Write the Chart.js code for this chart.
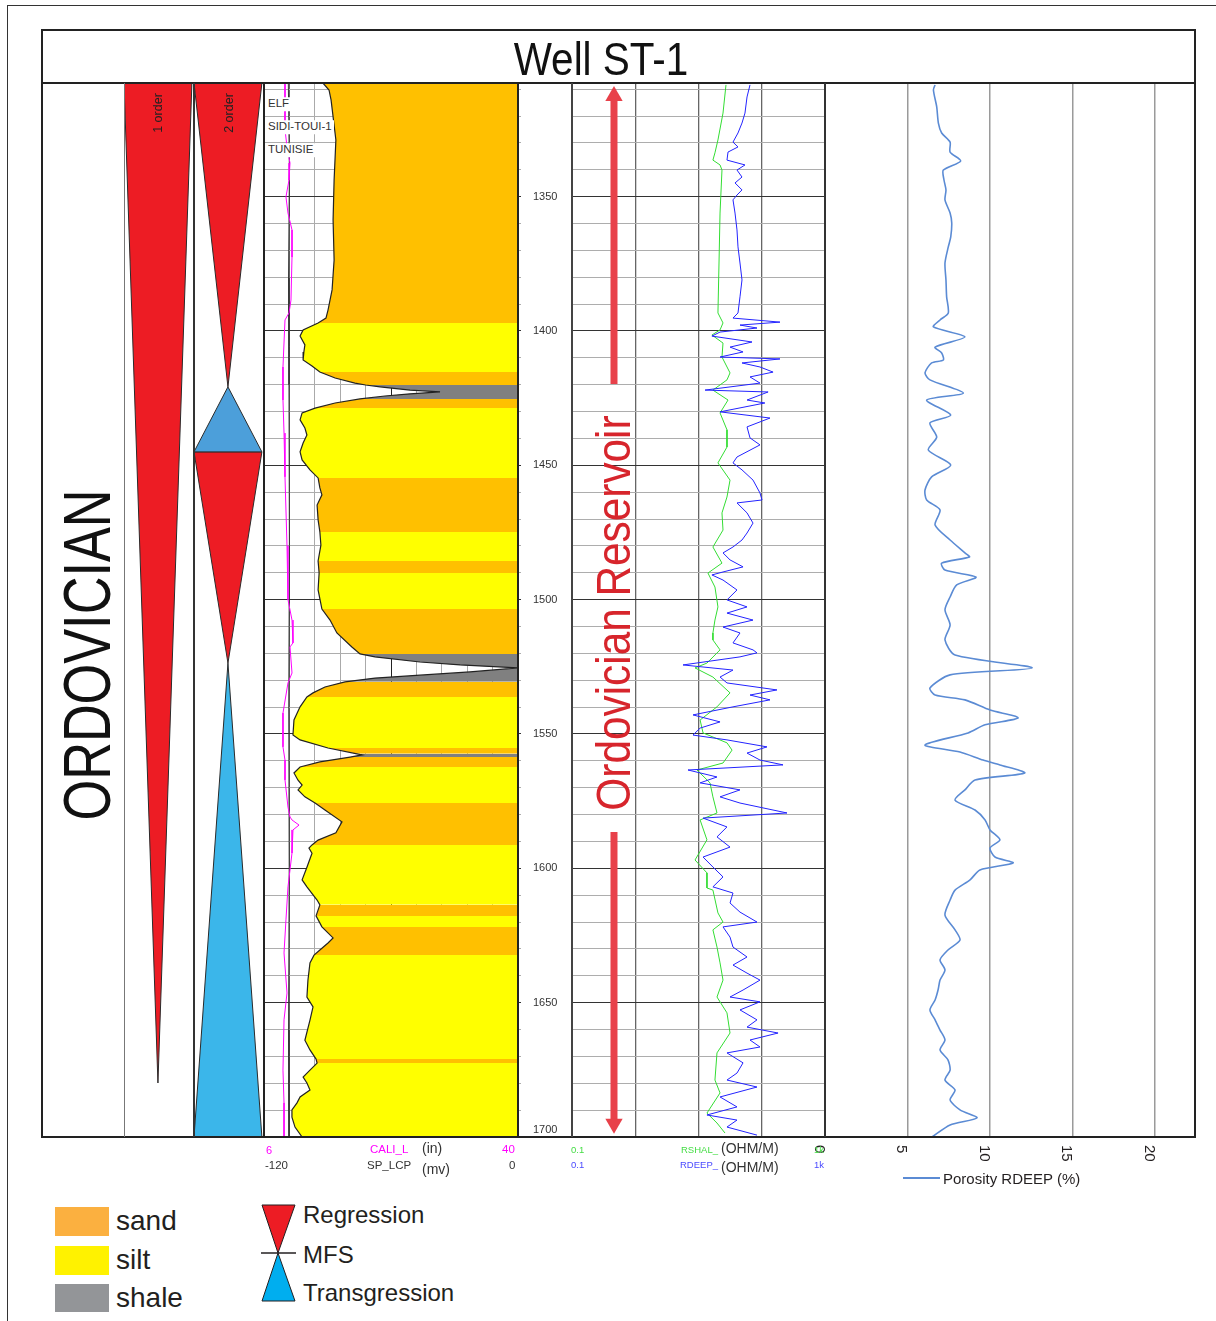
<!DOCTYPE html>
<html>
<head>
<meta charset="utf-8">
<title>Well ST-1</title>
<script src="https://cdn.jsdelivr.net/npm/chart.js@4.4.1/dist/chart.umd.min.js"></script>
<style>
  body { margin: 0; background: #fff; }
  #page { position: relative; width: 1216px; height: 1321px; overflow: hidden;
          font-family: "Liberation Sans", Arial, sans-serif; color: #231f20; }
  #page canvas { position: absolute; }
  .ln { position: absolute; }
  .t { position: absolute; white-space: nowrap; line-height: 1; transform: translateY(-50%); }
  .v { position: absolute; white-space: nowrap; line-height: 1; }
  .box { position: absolute; width: 54px; height: 29px; }
</style>
</head>
<body>
<div id="page">
  <div class="ln" style="left:7px;top:5px;width:1220px;height:1330px;border-left:1.5px solid #333;border-top:1.5px solid #333;"></div>

  <canvas id="seq" width="140" height="1054" style="left:124px;top:83px"></canvas>
  <canvas id="sp" width="308" height="1070" style="left:264px;top:83px"></canvas>
  <canvas id="res" width="253" height="1054" style="left:572px;top:83px"></canvas>
  <canvas id="por" width="380" height="1120" style="left:815px;top:83px"></canvas>

  <!-- frame and track borders -->
  <div class="ln" style="left:41px;top:29px;width:1155px;height:1109px;border:2px solid #222;box-sizing:border-box;"></div>
  <div class="ln" style="left:41px;top:82px;width:1155px;height:2px;background:#222"></div>
  <div class="ln" style="left:124px;top:83px;width:1px;height:1054px;background:#777"></div>
  <div class="ln" style="left:193px;top:83px;width:1.5px;height:1054px;background:#333"></div>
  <div class="ln" style="left:263px;top:83px;width:2px;height:1054px;background:#222"></div>
  <div class="ln" style="left:517px;top:83px;width:1.5px;height:1054px;background:#222"></div>
  <div class="ln" style="left:571px;top:83px;width:1.5px;height:1054px;background:#444"></div>
  <div class="ln" style="left:824px;top:83px;width:2px;height:1054px;background:#333"></div>

  <div class="v" style="left:601px;top:59px;font-size:46px;color:#111;transform:translate(-50%,-50%) scaleX(0.88);">Well ST-1</div>
  <div class="v" style="left:86px;top:655px;font-size:67px;color:#111;transform:translate(-50%,-50%) rotate(-90deg) scaleX(0.78);">ORDOVICIAN</div>
  <div class="v" style="left:158px;top:113px;font-size:12.5px;color:#222;transform:translate(-50%,-50%) rotate(-90deg);">1 order</div>
  <div class="v" style="left:229px;top:113px;font-size:12.5px;color:#222;transform:translate(-50%,-50%) rotate(-90deg);">2 order</div>
  <div class="v" style="left:612.5px;top:612.5px;font-size:49px;color:#d7252c;transform:translate(-50%,-50%) rotate(-90deg) scaleX(0.864);">Ordovician Reservoir</div>

  <div class="t" style="left:267px;top:104px;font-size:11.5px;color:#333;background:#fff;padding:1px 2px 1px 1px;">ELF</div>
  <div class="t" style="left:267px;top:127px;font-size:11.5px;color:#333;background:#fff;padding:1px 2px 1px 1px;">SIDI-TOUI-1</div>
  <div class="t" style="left:267px;top:150px;font-size:11.5px;color:#333;background:#fff;padding:1px 2px 1px 1px;">TUNISIE</div>

  <!-- track scale captions -->
  <div class="t" style="left:266px;top:1150px;font-size:11px;color:#ff00ff">6</div>
  <div class="t" style="left:370px;top:1150px;font-size:11.5px;color:#ff00ff">CALI_L</div>
  <div class="t" style="left:422px;top:1148px;font-size:14px;color:#333">(in)</div>
  <div class="t" style="left:502px;top:1150px;font-size:11.5px;color:#ff00ff">40</div>
  <div class="t" style="left:265px;top:1166px;font-size:11.5px;color:#333">-120</div>
  <div class="t" style="left:367px;top:1166px;font-size:11.5px;color:#333">SP_LCP</div>
  <div class="t" style="left:422px;top:1169px;font-size:14px;color:#333">(mv)</div>
  <div class="t" style="left:509px;top:1166px;font-size:11.5px;color:#333">0</div>
  <div class="t" style="left:571px;top:1150px;font-size:9.5px;color:#44dd44">0.1</div>
  <div class="t" style="left:571px;top:1165px;font-size:9.5px;color:#4a4aff">0.1</div>
  <div class="t" style="left:681px;top:1150px;font-size:9.5px;color:#44dd44">RSHAL_</div>
  <div class="t" style="left:721px;top:1148px;font-size:14px;color:#333">(OHM/M)</div>
  <div class="t" style="left:680px;top:1165px;font-size:9.5px;color:#4a4aff">RDEEP_</div>
  <div class="t" style="left:721px;top:1167px;font-size:14px;color:#333">(OHM/M)</div>
  <div class="t" style="left:814px;top:1150px;font-size:9.5px;color:#44dd44">1k</div>
  <div class="t" style="left:814px;top:1165px;font-size:9.5px;color:#4a4aff">1k</div>

  <div class="ln" style="left:903px;top:1177px;width:37px;height:2px;background:#5b8bd4"></div>
  <div class="t" style="left:943px;top:1178px;font-size:15px;color:#231f20">Porosity RDEEP (%)</div>

  <!-- legend -->
  <div class="box" style="left:55px;top:1207px;background:#fbb040"></div>
  <div class="box" style="left:55px;top:1246px;background:#fff200"></div>
  <div class="box" style="left:55px;top:1284px;height:28px;background:#939598"></div>
  <div class="t" style="left:116px;top:1221px;font-size:28px">sand</div>
  <div class="t" style="left:116px;top:1260px;font-size:28px">silt</div>
  <div class="t" style="left:116px;top:1298px;font-size:28px">shale</div>
  <svg style="position:absolute;left:255px;top:1200px" width="50" height="110">
    <polygon points="7,5 40,5 23,53" fill="#ed1c24" stroke="#231f20" stroke-width="1"/>
    <polygon points="23,53 7,101 40,101" fill="#00aeef" stroke="#231f20" stroke-width="1"/>
    <line x1="6" y1="53" x2="41" y2="53" stroke="#231f20" stroke-width="1.5"/>
  </svg>
  <div class="t" style="left:303px;top:1215px;font-size:24px">Regression</div>
  <div class="t" style="left:303px;top:1255px;font-size:24px">MFS</div>
  <div class="t" style="left:303px;top:1293px;font-size:24px">Transgression</div>
</div>

<script>
// ---- depth frame (m) ----
const depthTop = 1307.7;
const depthBase = 1700;
const depthLabels = [1350, 1400, 1450, 1500, 1550, 1600, 1650, 1700];

// ---- grid ticks per track ----
const litTicks = [0, 10, 20, 30, 40, 50, 60, 70, 80, 90, 100];
const litMax = 100;
const resTicks = [0.1, 1, 10, 100, 1000];
const porTicks = [0, 5, 10, 15, 20];
const porMax = 22.42;

// ---- sequence stratigraphy: [from, to, kind]  R = regression, T = transgression ----
const order1 = [[1307.7, 1679.9, 'R']];
const order2 = [[1307.7, 1420.8, 'R'], [1420.8, 1445.0, 'T'], [1445.0, 1523.6, 'R'], [1523.6, 1700, 'T']];

// ---- lithology bands: [top, base, kind] ----
const lithBands = [
  [1307.7, 1397.0, 'sand'], [1397.0, 1415.3, 'silt'], [1415.3, 1420.1, 'sand'], [1420.1, 1425.3, 'shale'],
  [1425.3, 1428.7, 'sand'], [1428.7, 1454.7, 'silt'], [1454.7, 1474.8, 'sand'], [1474.8, 1485.6, 'silt'],
  [1485.6, 1490.1, 'sand'], [1490.1, 1503.5, 'silt'], [1503.5, 1520.2, 'sand'], [1520.2, 1530.6, 'shale'],
  [1530.6, 1536.2, 'sand'], [1536.2, 1555.2, 'silt'], [1555.2, 1557.4, 'sand'], [1557.4, 1558.6, 'shale'],
  [1558.6, 1562.3, 'sand'], [1562.3, 1575.7, 'silt'], [1575.7, 1591.3, 'sand'], [1591.3, 1613.6, 'silt'],
  [1613.6, 1617.7, 'sand'], [1617.7, 1621.8, 'silt'], [1621.8, 1632.3, 'sand'], [1632.3, 1671.0, 'silt'],
  [1671.0, 1672.5, 'sand'], [1672.5, 1700.0, 'silt']
];

// ---- lithology outline curve: [depth, track %] ----
const litCurve = [
  [1307.7, 23.2], [1310.3, 25.6], [1314.0, 26.4], [1328.9, 28.3], [1343.8, 27.6], [1358.7, 27.2], [1373.6, 27.6],
  [1384.7, 26.8], [1392.2, 25.2], [1395.2, 24.4], [1397.0, 21.3], [1399.6, 15.4], [1401.9, 14.2], [1405.2, 16.1],
  [1407.8, 15.7], [1410.8, 15.4], [1413.0, 18.9], [1415.3, 22.0], [1417.5, 28.0], [1419.4, 35.8], [1420.1, 40.0],
  [1420.8, 45.7], [1422.0, 57.5], [1422.7, 69.3], [1423.4, 57.5], [1424.2, 47.6], [1425.3, 37.8], [1426.8, 28.0],
  [1428.7, 20.1], [1430.5, 15.0], [1433.1, 14.2], [1436.1, 16.1], [1438.7, 16.9], [1441.7, 15.4], [1445.0, 14.2],
  [1448.0, 15.0], [1451.7, 18.1], [1454.7, 21.3], [1458.4, 22.0], [1461.0, 22.8], [1464.8, 20.9], [1470.3, 21.3],
  [1474.8, 22.0], [1479.7, 22.4], [1485.6, 21.3], [1490.1, 21.7], [1496.4, 21.3], [1503.5, 22.8], [1507.6, 26.0],
  [1512.4, 28.7], [1517.6, 34.6], [1520.2, 37.8], [1521.3, 43.7], [1523.2, 61.4], [1524.3, 77.2], [1525.4, 100],
  [1526.9, 81.1], [1528.1, 61.4], [1529.2, 43.7], [1530.6, 31.9], [1532.5, 24.0], [1534.7, 19.3], [1536.2, 16.9],
  [1539.9, 14.2], [1544.8, 11.8], [1550.4, 11.4], [1552.2, 14.2], [1555.2, 25.2], [1557.4, 36.6], [1557.8, 38.6],
  [1558.6, 33.9], [1560.4, 22.0], [1562.3, 14.2], [1564.5, 11.8], [1567.2, 13.4], [1569.0, 15.0], [1570.8, 13.4],
  [1573.4, 16.1], [1575.7, 20.1], [1578.3, 24.0], [1582.7, 30.7], [1586.8, 28.3], [1589.5, 21.3], [1591.3, 18.9],
  [1592.5, 17.7], [1594.4, 18.9], [1599.6, 16.9], [1604.3, 15.0], [1606.9, 16.9], [1611.8, 20.9], [1613.6, 22.0],
  [1616.6, 20.9], [1617.7, 20.5], [1621.8, 22.8], [1625.9, 27.2], [1627.8, 25.2], [1630.4, 22.0], [1632.3, 19.7],
  [1635.2, 18.1], [1641.6, 17.3], [1647.9, 16.9], [1651.6, 19.3], [1656.5, 18.1], [1664.0, 16.1], [1667.6, 18.1],
  [1671.0, 20.5], [1672.5, 20.9], [1675.1, 18.1], [1677.7, 15.4], [1679.9, 16.9], [1682.5, 18.1], [1685.1, 14.2],
  [1687.3, 13.0], [1689.9, 11.0], [1692.6, 11.0], [1696.3, 12.2], [1700.0, 15.0]
];

// ---- CALI_L (in) and SP_LCP (mv) ----
const caliCurve = [
  [1307.7, 8.81], [1325.0, 8.81], [1331.5, 9.08], [1337.5, 9.48], [1343.8, 9.35], [1350.1, 8.94], [1356.1, 9.21],
  [1362.4, 9.75], [1372.5, 9.75], [1388.5, 9.61], [1393.3, 9.35], [1395.9, 8.81], [1413.4, 8.54], [1425.7, 8.54],
  [1438.0, 8.68], [1454.3, 8.81], [1480.0, 9.08], [1500.0, 9.21], [1507.6, 9.75], [1516.1, 9.88], [1517.6, 9.48],
  [1527.3, 9.75], [1531.0, 9.21], [1542.2, 8.54], [1554.8, 8.54], [1559.7, 8.81], [1567.1, 8.81], [1577.2, 9.21],
  [1580.9, 9.48], [1582.0, 9.75], [1583.9, 10.69], [1585.7, 9.88], [1594.3, 9.75], [1606.9, 9.21], [1619.2, 8.94],
  [1631.5, 8.68], [1646.4, 9.08], [1656.4, 8.68], [1675.1, 8.54], [1687.3, 8.68], [1700.0, 8.68]
];
const spCurve = [
  [1307.7, -108.5], [1340.0, -108.0], [1380.0, -108.4], [1420.0, -108.2], [1480.0, -108.0],
  [1540.0, -108.3], [1600.0, -108.1], [1660.0, -108.4], [1700.0, -108.2]
];

// ---- resistivity (ohm.m) ----
const rdeep = [
  [1308.4, 65.2], [1312.9, 58.5], [1318.9, 54.3], [1322.6, 48.7], [1326.3, 42.1], [1329.7, 35.1], [1331.5, 42.1],
  [1333.4, 29.3], [1336.4, 28.2], [1338.2, 54.3], [1340.1, 40.6], [1342.7, 48.7], [1344.9, 37.8], [1347.5, 48.7],
  [1349.4, 40.6], [1351.2, 35.1], [1356.1, 37.8], [1362.4, 40.6], [1368.7, 42.1], [1374.7, 45.3], [1381.0, 48.7],
  [1387.3, 45.3], [1393.3, 42.1], [1395.2, 35.1], [1396.7, 194], [1397.8, 45.3], [1398.9, 84.1], [1400.4, 21.9],
  [1401.9, 16.3], [1404.1, 70.2], [1406.0, 31.5], [1407.8, 50.6], [1409.7, 21.9], [1410.4, 194], [1411.9, 48.7],
  [1413.4, 93.8], [1415.3, 151], [1417.1, 65.2], [1419.4, 93.8], [1422.0, 12.7], [1422.7, 126], [1425.7, 58.5],
  [1426.8, 112], [1430.1, 21.9], [1432.4, 135], [1435.7, 58.5], [1439.8, 65.2], [1442.4, 93.8], [1446.9, 40.6],
  [1449.1, 35.1], [1451.7, 48.7], [1455.5, 72.8], [1460.3, 93.8], [1462.9, 101], [1464.0, 40.6], [1467.7, 58.5],
  [1471.5, 72.8], [1475.2, 58.5], [1477.8, 48.7], [1480.4, 35.1], [1482.6, 24.4], [1485.2, 31.5], [1487.8, 50.6],
  [1489.7, 24.4], [1490.8, 16.3], [1492.7, 24.4], [1496.4, 40.6], [1500.1, 28.2], [1502.7, 58.5], [1505.0, 28.2],
  [1507.6, 72.8], [1510.2, 24.4], [1512.4, 45.3], [1516.1, 35.1], [1518.7, 72.8], [1519.8, 84.1], [1521.3, 45.3],
  [1524.3, 5.69], [1526.2, 35.1], [1528.8, 21.9], [1531.0, 28.2], [1533.6, 174], [1535.5, 65.2], [1537.3, 135],
  [1539.9, 35.1], [1542.9, 8.19], [1545.5, 21.9], [1547.8, 10.6], [1550.4, 8.19], [1552.2, 28.2], [1554.8, 121],
  [1557.1, 58.5], [1559.7, 93.8], [1561.5, 217], [1563.4, 6.82], [1566.0, 19.6], [1568.2, 10.6], [1570.8, 45.3],
  [1573.4, 21.9], [1575.7, 45.3], [1579.4, 251], [1581.3, 11.8], [1584.6, 28.2], [1588.3, 19.6], [1592.1, 31.5],
  [1595.8, 11.8], [1599.5, 16.9], [1603.2, 24.4], [1606.9, 16.9], [1609.2, 35.1], [1612.9, 31.5], [1616.3, 45.3],
  [1620.0, 84.1], [1621.8, 24.4], [1625.6, 31.5], [1629.3, 35.1], [1633.0, 58.5], [1636.0, 35.1], [1639.0, 58.5],
  [1641.6, 93.8], [1645.3, 50.6], [1647.9, 31.5], [1649.7, 93.8], [1652.7, 45.3], [1656.4, 84.1], [1659.1, 58.5],
  [1661.3, 181], [1663.9, 65.2], [1666.5, 93.8], [1668.7, 28.2], [1672.4, 50.6], [1676.2, 40.6], [1678.8, 28.2],
  [1681.4, 84.1], [1685.1, 21.9], [1688.8, 40.6], [1691.8, 13.6], [1693.7, 40.6], [1696.3, 28.2], [1699.3, 84.1]
];
const rshal = [
  [1308.4, 27.2], [1318.9, 24.4], [1328.9, 20.3], [1333.7, 18.2], [1336.4, 16.9], [1338.2, 21.9], [1340.1, 23.5],
  [1356.1, 21.9], [1374.7, 21.1], [1393.3, 20.3], [1397.0, 24.4], [1399.6, 21.9], [1401.5, 16.3], [1404.5, 24.4],
  [1409.7, 23.5], [1415.6, 31.5], [1418.2, 28.2], [1422.0, 16.9], [1425.7, 29.3], [1430.5, 21.9], [1436.8, 28.2],
  [1443.2, 28.2], [1449.1, 20.3], [1455.5, 31.5], [1461.8, 28.2], [1467.7, 23.5], [1474.1, 24.4], [1480.4, 16.9],
  [1486.4, 23.5], [1490.1, 14.1], [1495.3, 18.2], [1502.7, 20.3], [1507.6, 18.2], [1512.4, 16.9], [1515.0, 16.9],
  [1518.7, 21.9], [1523.6, 13.6], [1525.4, 8.81], [1528.8, 16.9], [1534.7, 31.5], [1539.9, 19.6], [1544.8, 10.6],
  [1549.6, 11.8], [1553.3, 28.2], [1556.0, 33.9], [1560.8, 24.4], [1563.4, 9.47], [1568.2, 15.2], [1573.4, 16.9],
  [1579.4, 19.6], [1582.0, 10.6], [1589.4, 13.6], [1596.9, 8.81], [1601.7, 13.6], [1607.3, 13.6], [1608.1, 16.9],
  [1616.6, 20.3], [1620.0, 24.4], [1622.9, 16.9], [1629.3, 19.6], [1635.2, 21.9], [1641.6, 24.4], [1647.9, 19.6],
  [1653.8, 28.2], [1661.3, 31.5], [1668.7, 19.6], [1678.8, 18.2], [1683.6, 21.9], [1691.1, 13.6], [1694.8, 19.6],
  [1698.5, 26.2]
];

// ---- porosity from RDEEP (%) ----
const porosity = [
  [1308.4, 6.67], [1310.3, 6.57], [1316.6, 6.77], [1322.6, 6.87], [1326.3, 7.07], [1329.7, 7.58], [1333.4, 7.58],
  [1336.7, 8.22], [1340.1, 7.17], [1343.8, 7.21], [1347.5, 7.33], [1351.2, 7.27], [1356.1, 7.58], [1359.8, 7.68],
  [1365.0, 7.62], [1368.7, 7.47], [1374.7, 7.27], [1381.0, 7.33], [1387.3, 7.37], [1393.3, 7.47], [1395.9, 6.97],
  [1398.5, 6.57], [1402.2, 8.48], [1406.0, 6.67], [1408.2, 7.07], [1410.8, 7.17], [1411.9, 6.46], [1415.6, 6.06],
  [1418.2, 6.36], [1423.1, 8.38], [1425.7, 6.16], [1431.3, 7.62], [1434.2, 6.36], [1439.5, 6.77], [1444.3, 6.26],
  [1449.9, 7.62], [1454.3, 6.46], [1459.2, 6.06], [1462.9, 6.16], [1466.6, 6.97], [1472.2, 6.67], [1477.8, 7.58],
  [1482.6, 8.48], [1484.1, 8.75], [1486.4, 7.07], [1489.0, 7.27], [1491.6, 9.15], [1494.5, 7.98], [1499.0, 7.58],
  [1503.8, 7.27], [1509.4, 7.58], [1515.0, 7.27], [1520.6, 7.88], [1525.4, 12.55], [1528.0, 7.58], [1532.9, 6.36],
  [1535.5, 6.67], [1537.3, 8.48], [1541.1, 10.0], [1544.0, 11.7], [1546.6, 9.7], [1549.6, 8.67], [1554.1, 6.06],
  [1556.7, 8.18], [1559.7, 9.58], [1561.5, 10.6], [1564.5, 12.1], [1567.1, 9.09], [1570.8, 8.48], [1574.6, 7.88],
  [1578.3, 9.09], [1582.0, 9.7], [1585.7, 10.0], [1589.4, 10.6], [1592.4, 10.0], [1595.8, 10.3], [1598.0, 11.4],
  [1600.6, 9.39], [1604.3, 8.79], [1608.1, 7.88], [1611.8, 7.58], [1617.4, 7.27], [1622.9, 7.88], [1626.7, 8.18],
  [1630.4, 7.45], [1634.1, 6.97], [1637.8, 7.27], [1641.6, 6.97], [1645.3, 6.85], [1649.0, 6.67], [1652.7, 6.36],
  [1656.4, 6.67], [1660.2, 6.97], [1663.9, 7.27], [1667.6, 6.97], [1671.3, 7.45], [1675.1, 7.58], [1678.8, 7.27],
  [1682.5, 7.88], [1686.2, 7.58], [1689.9, 8.18], [1692.9, 9.21], [1695.5, 7.58], [1700.0, 6.48]
];

// reservoir interval arrows: [tail/head depth pairs]
const reservoirArrows = [[1312.5, 1419.7, 'up'], [1586.5, 1695.1, 'down']];

// ---- styles ----
const lithColor = { sand: '#FFC000', silt: '#FFFF00', shale: '#808080' };
const seqRed = '#ED1C24';
const seqBlueSmall = '#4C9FDA';
const seqBlueLarge = '#3BB6EA';
const arrowRed = '#E8414A';
const arrowX = 0.166;
const triW = 0.97;

Chart.defaults.font.family = '"Liberation Sans", Arial, sans-serif';

const depthGrid = [];
for (let d = 1310; d <= depthBase; d += 10) depthGrid.push(d);

const xy = arr => arr.map(p => ({ x: p[1], y: p[0] }));

function base(extra) {
  const o = Object.assign({
    responsive: false,
    animation: false,
    events: [],
    plugins: { legend: { display: false }, tooltip: { enabled: false } }
  }, extra);
  // keep every chart area pinned to its canvas so depth lines up across tracks
  o.layout = Object.assign({ padding: 0, autoPadding: false }, extra.layout || {});
  return o;
}

function depthScale(extra) {
  return Object.assign({
    type: 'linear', reverse: true, min: depthTop, max: depthBase,
    afterBuildTicks: s => { s.ticks = depthGrid.map(v => ({ value: v })); },
    afterFit: s => { s.width = 0; s.paddingTop = 0; s.paddingBottom = 0; },
    ticks: { display: false },
    grid: {
      color: c => (c.tick && c.tick.value % 50 === 0) ? '#333' : '#adadad',
      lineWidth: 1, drawTicks: false
    },
    border: { display: false }
  }, extra);
}

function hiddenTopAxis(extra) {
  return Object.assign({
    type: 'linear', position: 'top',
    afterFit: s => { s.height = 0; s.paddingLeft = 0; s.paddingRight = 0; },
    ticks: { display: false },
    border: { display: false }
  }, extra);
}

// ---- sequence triangles ----
const triSets = [];
[[0, order1], [1, order2]].forEach(([col, list]) => {
  list.forEach(([from, to, kind]) => {
    const wide = kind === 'R' ? from : to;
    const apex = kind === 'R' ? to : from;
    let color = seqRed;
    if (kind === 'T') color = (to - from) < 50 ? seqBlueSmall : seqBlueLarge;
    triSets.push({
      data: [{ x: col, y: wide }, { x: col + triW, y: wide }, { x: col + triW / 2, y: apex }, { x: col, y: wide }],
      fill: 'shape', backgroundColor: color, borderColor: '#2b2b2b', borderWidth: 1, pointRadius: 0
    });
  });
});

new Chart(document.getElementById('seq'), {
  type: 'line',
  data: { datasets: triSets },
  options: base({
    scales: {
      x: { type: 'linear', min: 0, max: 2, display: false },
      y: { type: 'linear', reverse: true, min: depthTop, max: depthBase, display: false }
    }
  })
});

// ---- SP / CALI / lithology track with depth labels ----
const lithSets = lithBands.map(([top, bot, kind]) => ({
  data: xy(litCurve.filter(p => p[0] >= top - 0.01 && p[0] <= bot + 0.01)),
  xAxisID: 'xLit', borderWidth: 0, borderColor: 'rgba(0,0,0,0)', pointRadius: 0,
  fill: { value: litMax }, backgroundColor: lithColor[kind]
}));

new Chart(document.getElementById('sp'), {
  type: 'line',
  data: {
    datasets: [
      { label: 'CALI_L', data: xy(caliCurve), xAxisID: 'xCali', borderColor: '#ff00ff', borderWidth: 1, pointRadius: 0 },
      { label: 'SP_LCP', data: xy(spCurve), xAxisID: 'xSp', borderColor: '#333', borderWidth: 1, pointRadius: 0 },
      { label: 'lithology', data: xy(litCurve), xAxisID: 'xLit', borderColor: '#222', borderWidth: 1.2, pointRadius: 0 },
      ...lithSets
    ]
  },
  options: base({
    indexAxis: 'y',
    layout: { padding: { bottom: 16 } },
    scales: {
      xLit: hiddenTopAxis({
        min: 0, max: litMax,
        afterBuildTicks: s => { s.ticks = litTicks.map(v => ({ value: v })); },
        grid: {
          color: c => !c.tick ? '#aaa' : (c.tick.value === 50 ? '#222' : (c.tick.value === 10 ? '#666' : '#aaa')),
          lineWidth: 1, drawTicks: false
        }
      }),
      xCali: { type: 'linear', min: 6, max: 40, display: false },
      xSp: { type: 'linear', min: -120, max: 0, display: false },
      y: depthScale({
        position: 'right',
        afterFit: s => { s.width = 54; s.paddingTop = 0; s.paddingBottom = 0; },
        ticks: {
          display: true, autoSkip: false, padding: 12, crossAlign: 'center',
          color: '#333', font: { size: 11 },
          callback: v => v === depthBase ? [String(v), ''] : (depthLabels.includes(v) ? String(v) : '')
        },
        grid: {
          color: c => (c.tick && c.tick.value % 50 === 0) ? '#333' : '#adadad',
          lineWidth: 1, drawTicks: true, tickLength: 3
        }
      })
    }
  })
});

// ---- resistivity track ----
const arrowSets = reservoirArrows.map(([a, b, dir]) => ({
  data: [{ x: arrowX, y: a }, { x: arrowX, y: b }],
  xAxisID: 'xAnn', borderColor: arrowRed, borderWidth: 7,
  pointStyle: 'triangle', pointBackgroundColor: arrowRed, pointBorderWidth: 0,
  pointRadius: dir === 'up' ? [10, 0] : [0, 10],
  pointRotation: dir === 'up' ? 0 : 180
}));

new Chart(document.getElementById('res'), {
  type: 'line',
  data: {
    datasets: [
      { label: 'RDEEP_', data: xy(rdeep), xAxisID: 'x', borderColor: '#2323ff', borderWidth: 1, pointRadius: 0 },
      { label: 'RSHAL_', data: xy(rshal), xAxisID: 'x', borderColor: '#33dd33', borderWidth: 1, pointRadius: 0 },
      ...arrowSets
    ]
  },
  options: base({
    indexAxis: 'y',
    scales: {
      x: hiddenTopAxis({
        type: 'logarithmic', min: 0.1, max: 1000,
        afterBuildTicks: s => { s.ticks = resTicks.map(v => ({ value: v })); },
        grid: { color: '#666', lineWidth: 1.3, drawTicks: false }
      }),
      xAnn: { type: 'linear', min: 0, max: 1, display: false },
      y: depthScale({})
    }
  })
});

// ---- porosity track ----
const rotatedTicks = {
  id: 'rotatedTicks',
  afterDraw(chart) {
    const sc = chart.scales.x;
    const ctx = chart.ctx;
    const y0 = chart.chartArea.bottom + 8;
    ctx.save();
    ctx.font = '15px "Liberation Sans", Arial, sans-serif';
    ctx.fillStyle = '#231f20';
    ctx.textAlign = 'left';
    ctx.textBaseline = 'middle';
    sc.ticks.forEach((t, i) => {
      ctx.save();
      ctx.translate(sc.getPixelForTick(i) - 6, y0);
      ctx.rotate(Math.PI / 2);
      ctx.fillText(String(t.value), 0, 0);
      ctx.restore();
    });
    ctx.restore();
  }
};

new Chart(document.getElementById('por'), {
  type: 'line',
  data: {
    datasets: [
      { label: 'Porosity RDEEP (%)', data: xy(porosity), borderColor: '#5b8bd4', borderWidth: 1.6, tension: 0.25, pointRadius: 0 }
    ]
  },
  options: base({
    indexAxis: 'y',
    layout: { padding: { left: 10, bottom: 66 } },
    scales: {
      x: hiddenTopAxis({
        min: 0, max: porMax,
        afterBuildTicks: s => { s.ticks = porTicks.map(v => ({ value: v })); },
        grid: { color: '#9a9a9a', lineWidth: 1.5, drawTicks: false }
      }),
      y: { type: 'linear', reverse: true, min: depthTop, max: depthBase, display: false }
    }
  }),
  plugins: [rotatedTicks]
});
</script>
</body>
</html>
